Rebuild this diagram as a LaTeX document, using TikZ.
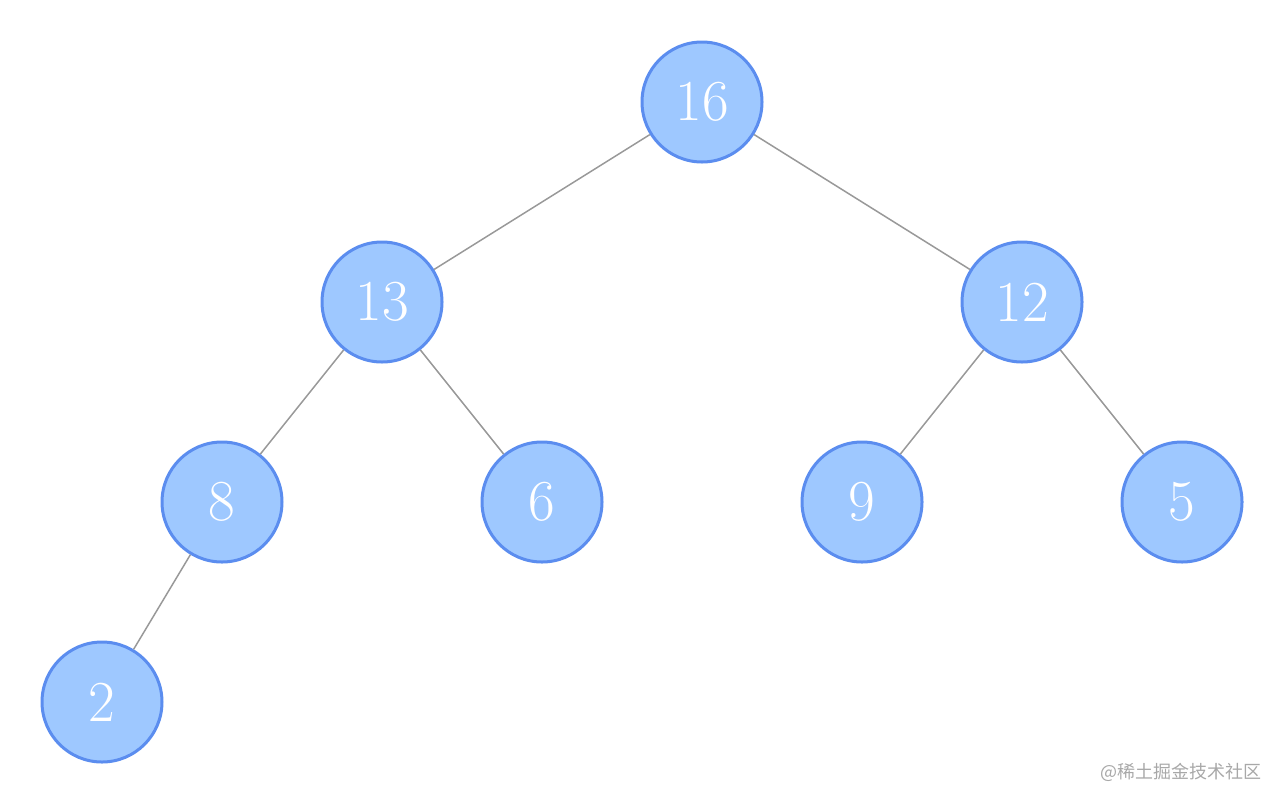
\documentclass[tikz,border=0pt]{standalone}
\usepackage{fontspec}
\newfontfamily\cjk{Noto Sans CJK SC}
\definecolor{nodefill}{HTML}{9EC8FF}
\definecolor{nodeline}{HTML}{5B8DEF}
\definecolor{edgecol}{HTML}{999999}
\definecolor{wmark}{HTML}{A8A8A8}
\begin{document}
\begin{tikzpicture}[x=1pt,y=-1pt,
  heapnode/.style={circle,draw=nodeline,fill=nodefill,line width=3pt,minimum size=120pt,inner sep=0pt,text=white,font=\fontsize{58}{62}\selectfont},
  edge/.style={draw=edgecol,line width=1.5pt}]
\useasboundingbox (0,0) rectangle (1284,804);
\node[heapnode] (n16) at (702,102) {16};
\node[heapnode] (n13) at (382,302) {13};
\node[heapnode] (n12) at (1022,302) {12};
\node[heapnode] (n8) at (222,502) {8};
\node[heapnode] (n6) at (542,502) {6};
\node[heapnode] (n9) at (862,502) {9};
\node[heapnode] (n5) at (1182,502) {5};
\node[heapnode] (n2) at (102,702) {2};
\draw[edge] (n16) -- (n13);
\draw[edge] (n16) -- (n12);
\draw[edge] (n13) -- (n8);
\draw[edge] (n13) -- (n6);
\draw[edge] (n12) -- (n9);
\draw[edge] (n12) -- (n5);
\draw[edge] (n8) -- (n2);
\node[text=wmark,font=\cjk\fontsize{18}{20}\selectfont,inner sep=0pt,anchor=east] (wm) at (1262,772) {@稀土掘金技术社区};
\end{tikzpicture}
\end{document}
